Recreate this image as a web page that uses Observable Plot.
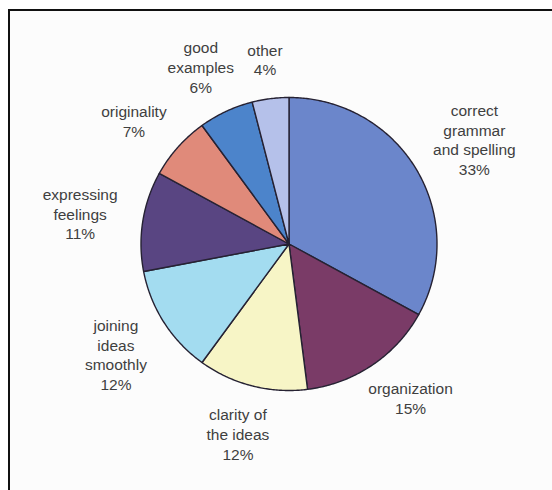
<!DOCTYPE html>
<html>
<head>
<meta charset="utf-8">
<script src="https://cdn.jsdelivr.net/npm/d3@7"></script>
<script src="https://cdn.jsdelivr.net/npm/@observablehq/plot@0.6"></script>
<style>
  html, body { margin: 0; padding: 0; background: #ffffff; width: 552px; height: 490px; overflow: hidden; }
  #frame { position: absolute; left: 8px; top: 9px; width: 600px; height: 600px;
           border: 2px solid #111; background: #fcfcfc; }
  #chart { position: absolute; left: 0; top: 0; }
</style>
</head>
<body>
<div id="frame"></div>
<div id="chart"></div>
<script>
// ---- data ----
const categories = ["correct grammar and spelling", "organization", "clarity of the ideas",
  "joining ideas smoothly", "expressing feelings", "originality", "good examples", "other"];
const values = [33, 15, 12, 12, 11, 7, 6, 4];
const labelLines = ["correct\ngrammar\nand spelling", "organization", "clarity of\nthe ideas",
  "joining\nideas\nsmoothly", "expressing\nfeelings", "originality", "good\nexamples", "other"];
const colors = ["#6b86cb", "#7a3b67", "#f7f5c6", "#a3dcf0", "#594582", "#e08a7a", "#4c84cb", "#b5c1ea"];

// ---- layout ----
const W = 552, H = 490;
const cx = 288.5, cy = 243.5, rx = 148, ry = 146.5;
const fontSize = 15.5, lineH = 19.6, gapX = 26, gapY = 20;
const fontFamily = "'Liberation Sans', Arial, Helvetica, sans-serif";

const arcs = d3.pie().sort(null).value(d => d)(values);

// wedge outlines in unit-circle coordinates (y up)
const pts = [];
arcs.forEach((a, i) => {
  const cat = categories[i];
  pts.push({cat, x: 0, y: 0});
  const n = Math.max(2, Math.ceil((a.endAngle - a.startAngle) / 0.01));
  for (let k = 0; k <= n; k++) {
    const t = a.startAngle + (a.endAngle - a.startAngle) * k / n;
    pts.push({cat, x: Math.sin(t), y: Math.cos(t)});
  }
  pts.push({cat, x: 0, y: 0});
});

// label placement: just outside the pie along the mid angle, shifted by half the text block
const ctx = document.createElement("canvas").getContext("2d");
ctx.font = `${fontSize}px ${fontFamily}`;
const labels = arcs.map((a, i) => {
  const text = labelLines[i] + "\n" + values[i] + "%";
  const lines = text.split("\n");
  const w = d3.max(lines, l => ctx.measureText(l).width) / 2;
  const h = lines.length * lineH / 2;
  const m = (a.startAngle + a.endAngle) / 2;
  const s = Math.sin(m), c = Math.cos(m);
  const px = s * (rx + gapX) + s * w;
  const py = c * (ry + gapY) + c * h;
  return {text, x: px / rx, y: py / ry};
});

const chart = Plot.plot({
  width: W,
  height: H,
  margin: 0,
  style: {background: "transparent", fontFamily},
  x: {domain: [-1, 1], range: [cx - rx, cx + rx], axis: null},
  y: {domain: [-1, 1], range: [cy + ry, cy - ry], axis: null},
  color: {domain: categories, range: colors},
  marks: [
    Plot.line(pts, {x: "x", y: "y", z: "cat", fill: "cat", stroke: "#262233",
      strokeWidth: 1.4, strokeLinejoin: "round", curve: "linear"}),
    Plot.text(labels, {x: "x", y: "y", text: "text", fontSize, lineHeight: lineH / fontSize,
      lineAnchor: "middle", textAnchor: "middle", fill: "#3f3f3f"})
  ]
});
document.getElementById("chart").appendChild(chart);
</script>
</body>
</html>
